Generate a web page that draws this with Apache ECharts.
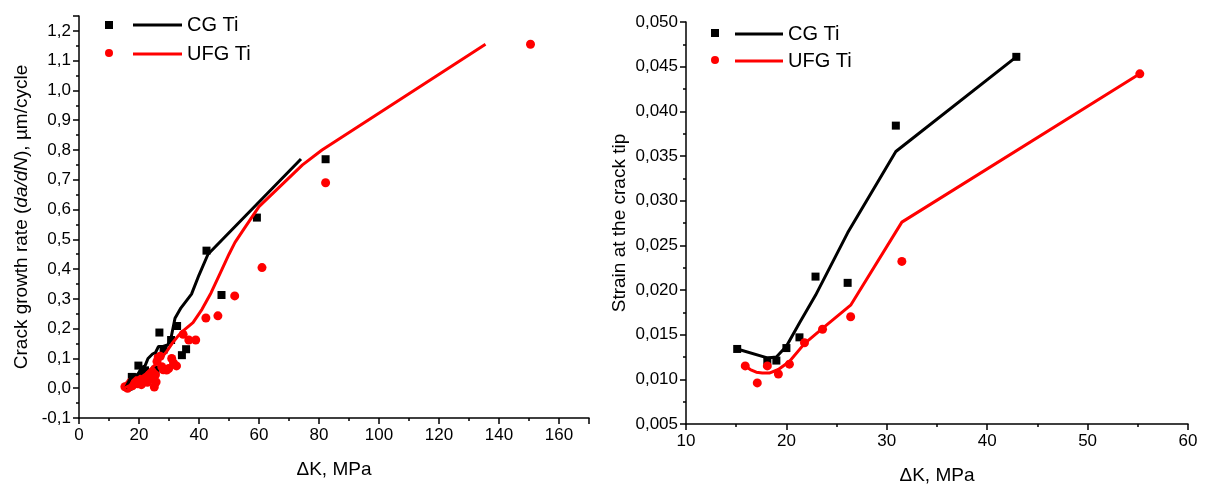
<!DOCTYPE html>
<html>
<head>
<meta charset="utf-8">
<script src="https://cdn.jsdelivr.net/npm/echarts@6/dist/echarts.min.js"></script>
<style>html,body{margin:0;padding:0;background:#fff}#c{width:1209px;height:490px}</style>
</head>
<body>
<div id="c"></div>
<script>
// ---- Left chart: crack growth rate vs ΔK ----
var leftCGPoints = [
  [16.5,0.005],[17.6,0.038],[18.5,0.03],[19.5,0.035],[19.8,0.076],[21.0,0.045],[22.0,0.06],
  [23.0,0.05],[24.6,0.049],[25.5,0.062],[26.8,0.187],[28.2,0.13],[30.7,0.162],[32.7,0.209],
  [34.3,0.111],[35.7,0.131],[42.5,0.462],[47.5,0.313],[59.3,0.573],[82.2,0.769]
];
var leftCGLine = [
  [15.5,0.0],[17.0,0.03],[18.5,0.045],[19.5,0.045],[21.0,0.07],[22.0,0.075],[23.0,0.1],
  [24.5,0.115],[25.5,0.12],[26.5,0.14],[28.0,0.14],[29.5,0.145],[30.5,0.16],[32.0,0.235],
  [34.0,0.27],[37.5,0.316],[40.0,0.38],[43.0,0.45],[74.0,0.77]
];
var leftUFGPoints = [
  [15.3,0.005],[16.2,0.0],[16.6,0.012],[17.2,0.02],[17.8,0.008],[18.3,0.022],[19.0,0.028],
  [19.6,0.015],[20.3,0.03],[20.8,0.012],[21.5,0.025],[22.2,0.035],[22.8,0.02],[23.4,0.045],
  [24.0,0.03],[24.5,0.055],[25.1,0.004],[25.5,0.045],[25.7,0.021],[26.0,0.09],[26.4,0.105],
  [27.1,0.107],[27.6,0.072],[28.1,0.062],[29.2,0.061],[29.9,0.066],[30.9,0.1],[31.5,0.085],
  [32.5,0.075],[34.7,0.181],[36.6,0.162],[38.9,0.162],[42.3,0.236],[46.3,0.243],[51.9,0.31],
  [61.0,0.405],[82.2,0.69],[150.5,1.155]
];
var leftUFGLine = [
  [15.0,0.0],[17.0,0.01],[19.0,0.025],[21.0,0.035],[23.0,0.055],[25.0,0.075],[27.0,0.098],
  [29.0,0.12],[31.0,0.15],[33.0,0.175],[35.0,0.195],[38.0,0.22],[41.0,0.265],[44.0,0.32],
  [47.0,0.385],[50.0,0.45],[52.0,0.49],[55.0,0.535],[60.0,0.61],[74.5,0.75],[81.0,0.80],
  [135.5,1.155]
];

// ---- Right chart: strain at crack tip vs ΔK ----
var rightCGPoints = [
  [15.1,0.0134],[18.1,0.0121],[19.0,0.0121],[20.0,0.0135],[21.3,0.0147],[22.9,0.0215],
  [26.1,0.0208],[30.9,0.0384],[42.9,0.0461]
];
var rightCGLine = [
  [15.1,0.0134],[18.1,0.0124],[19.0,0.0125],[20.0,0.0137],[21.3,0.0163],[22.9,0.0194],
  [26.1,0.0264],[30.9,0.0355],[42.9,0.0461]
];
var rightUFGPoints = [
  [15.9,0.0115],[17.1,0.0096],[18.1,0.0115],[19.2,0.0106],[20.3,0.0117],[21.8,0.0141],
  [23.6,0.0156],[26.4,0.0170],[31.5,0.0232],[55.2,0.0442]
];
var rightUFGLine = [
  [15.9,0.0115],[16.4,0.0111],[17.0,0.0108],[17.6,0.0107],[18.3,0.0107],[19.2,0.0111],
  [20.3,0.0120],[21.8,0.0140],[23.6,0.0157],[26.4,0.0183],[31.5,0.0276],[55.2,0.0442]
];

var FONT = 'Liberation Sans, Arial, sans-serif';
function comma(d){ return function(v){ return v.toFixed(d).replace('.', ','); }; }

function xAx(grid, min, max, interval, showMax){
  return {
    type:'value', gridIndex:grid, min:min, max:max, interval:interval,
    name:'ΔK, MPa', nameLocation:'middle', nameGap:42,
    nameTextStyle:{fontFamily:FONT, fontSize:19, color:'#000'},
    axisLine:{show:true, onZero:false, lineStyle:{color:'#000', width:1.5}},
    axisTick:{show:true, inside:false, length:6, lineStyle:{color:'#000', width:1.5}},
    minorTick:{show:true, splitNumber:2, length:3, lineStyle:{color:'#000', width:1.5}},
    axisLabel:{fontFamily:FONT, fontSize:17, color:'#000', margin:9, showMaxLabel:showMax},
    splitLine:{show:false}
  };
}
function yAx(grid, min, max, interval, dec, name, gap, showMax, rich){
  var o = {
    type:'value', gridIndex:grid, min:min, max:max, interval:interval,
    name:name, nameLocation:'middle', nameGap:gap, nameRotate:90,
    nameTextStyle:{fontFamily:FONT, fontSize:19, color:'#000'},
    axisLine:{show:true, onZero:false, lineStyle:{color:'#000', width:1.5}},
    axisTick:{show:true, inside:false, length:6, lineStyle:{color:'#000', width:1.5}},
    minorTick:{show:true, splitNumber:2, length:3, lineStyle:{color:'#000', width:1.5}},
    axisLabel:{fontFamily:FONT, fontSize:17, color:'#000', margin:8, showMaxLabel:showMax, formatter:comma(dec)},
    splitLine:{show:false}
  };
  if (rich) o.nameTextStyle.rich = rich;
  return o;
}
var legText = {fontFamily:FONT, fontSize:20, color:'#000'};

var chart = echarts.init(document.getElementById('c'), null, {renderer:'canvas'});
var option = {
  animation:false,
  backgroundColor:'#fff',
  textStyle:{fontFamily:FONT},
  grid:[
    {left:79, top:16, width:510, height:402},
    {left:686, top:22, width:502, height:405}
  ],
  xAxis:[ xAx(0, 0, 170, 20, false), xAx(1, 10, 60, 10, true) ],
  yAxis:[
    yAx(0, -0.1, 1.25, 0.1, 1, 'Crack growth rate ({i|da/dN}), µm/cycle', 48, false,
        {i:{fontFamily:FONT, fontSize:19, fontStyle:'italic', color:'#000'}}),
    yAx(1, 0.005, 0.05, 0.005, 3, 'Strain at the crack tip', 57, true)
  ],
  legend:[
    {left:100, top:16, orient:'vertical', itemGap:20, itemWidth:8, itemHeight:8,
     formatter:function(){return '';},
     data:[{name:'L CG pts', icon:'rect'},{name:'L UFG pts', icon:'circle'}], selectedMode:false},
    {left:128, top:10, orient:'vertical', itemGap:9, itemWidth:49, itemHeight:3,
     textStyle:legText,
     formatter:function(n){ return n.replace(/^L /,''); },
     data:[{name:'L CG Ti', icon:'rect'},{name:'L UFG Ti', icon:'rect'}], selectedMode:false},
    {left:706, top:24, orient:'vertical', itemGap:19, itemWidth:8, itemHeight:8,
     formatter:function(){return '';},
     data:[{name:'R CG pts', icon:'rect'},{name:'R UFG pts', icon:'circle'}], selectedMode:false},
    {left:730, top:19, orient:'vertical', itemGap:7, itemWidth:48, itemHeight:3,
     textStyle:legText,
     formatter:function(n){ return n.replace(/^R /,''); },
     data:[{name:'R CG Ti', icon:'rect'},{name:'R UFG Ti', icon:'rect'}], selectedMode:false}
  ],
  series:[
    {name:'L CG pts', type:'scatter', xAxisIndex:0, yAxisIndex:0, symbol:'rect', symbolSize:8,
     itemStyle:{color:'#000', opacity:1}, data:leftCGPoints},
    {name:'L CG Ti', type:'line', xAxisIndex:0, yAxisIndex:0, symbol:'none',
     lineStyle:{color:'#000', width:3}, itemStyle:{color:'#000'}, data:leftCGLine},
    {name:'L UFG pts', type:'scatter', xAxisIndex:0, yAxisIndex:0, symbol:'circle', symbolSize:9,
     itemStyle:{color:'#ff0000', opacity:1}, data:leftUFGPoints},
    {name:'L UFG Ti', type:'line', xAxisIndex:0, yAxisIndex:0, symbol:'none',
     lineStyle:{color:'#ff0000', width:3}, itemStyle:{color:'#ff0000'}, data:leftUFGLine},

    {name:'R CG pts', type:'scatter', xAxisIndex:1, yAxisIndex:1, symbol:'rect', symbolSize:8,
     itemStyle:{color:'#000', opacity:1}, data:rightCGPoints},
    {name:'R CG Ti', type:'line', xAxisIndex:1, yAxisIndex:1, symbol:'none',
     lineStyle:{color:'#000', width:3}, itemStyle:{color:'#000'}, data:rightCGLine},
    {name:'R UFG pts', type:'scatter', xAxisIndex:1, yAxisIndex:1, symbol:'circle', symbolSize:9,
     itemStyle:{color:'#ff0000', opacity:1}, data:rightUFGPoints},
    {name:'R UFG Ti', type:'line', xAxisIndex:1, yAxisIndex:1, symbol:'none',
     lineStyle:{color:'#ff0000', width:3}, itemStyle:{color:'#ff0000'}, data:rightUFGLine}
  ]
};
chart.setOption(option);
</script>
</body>
</html>
